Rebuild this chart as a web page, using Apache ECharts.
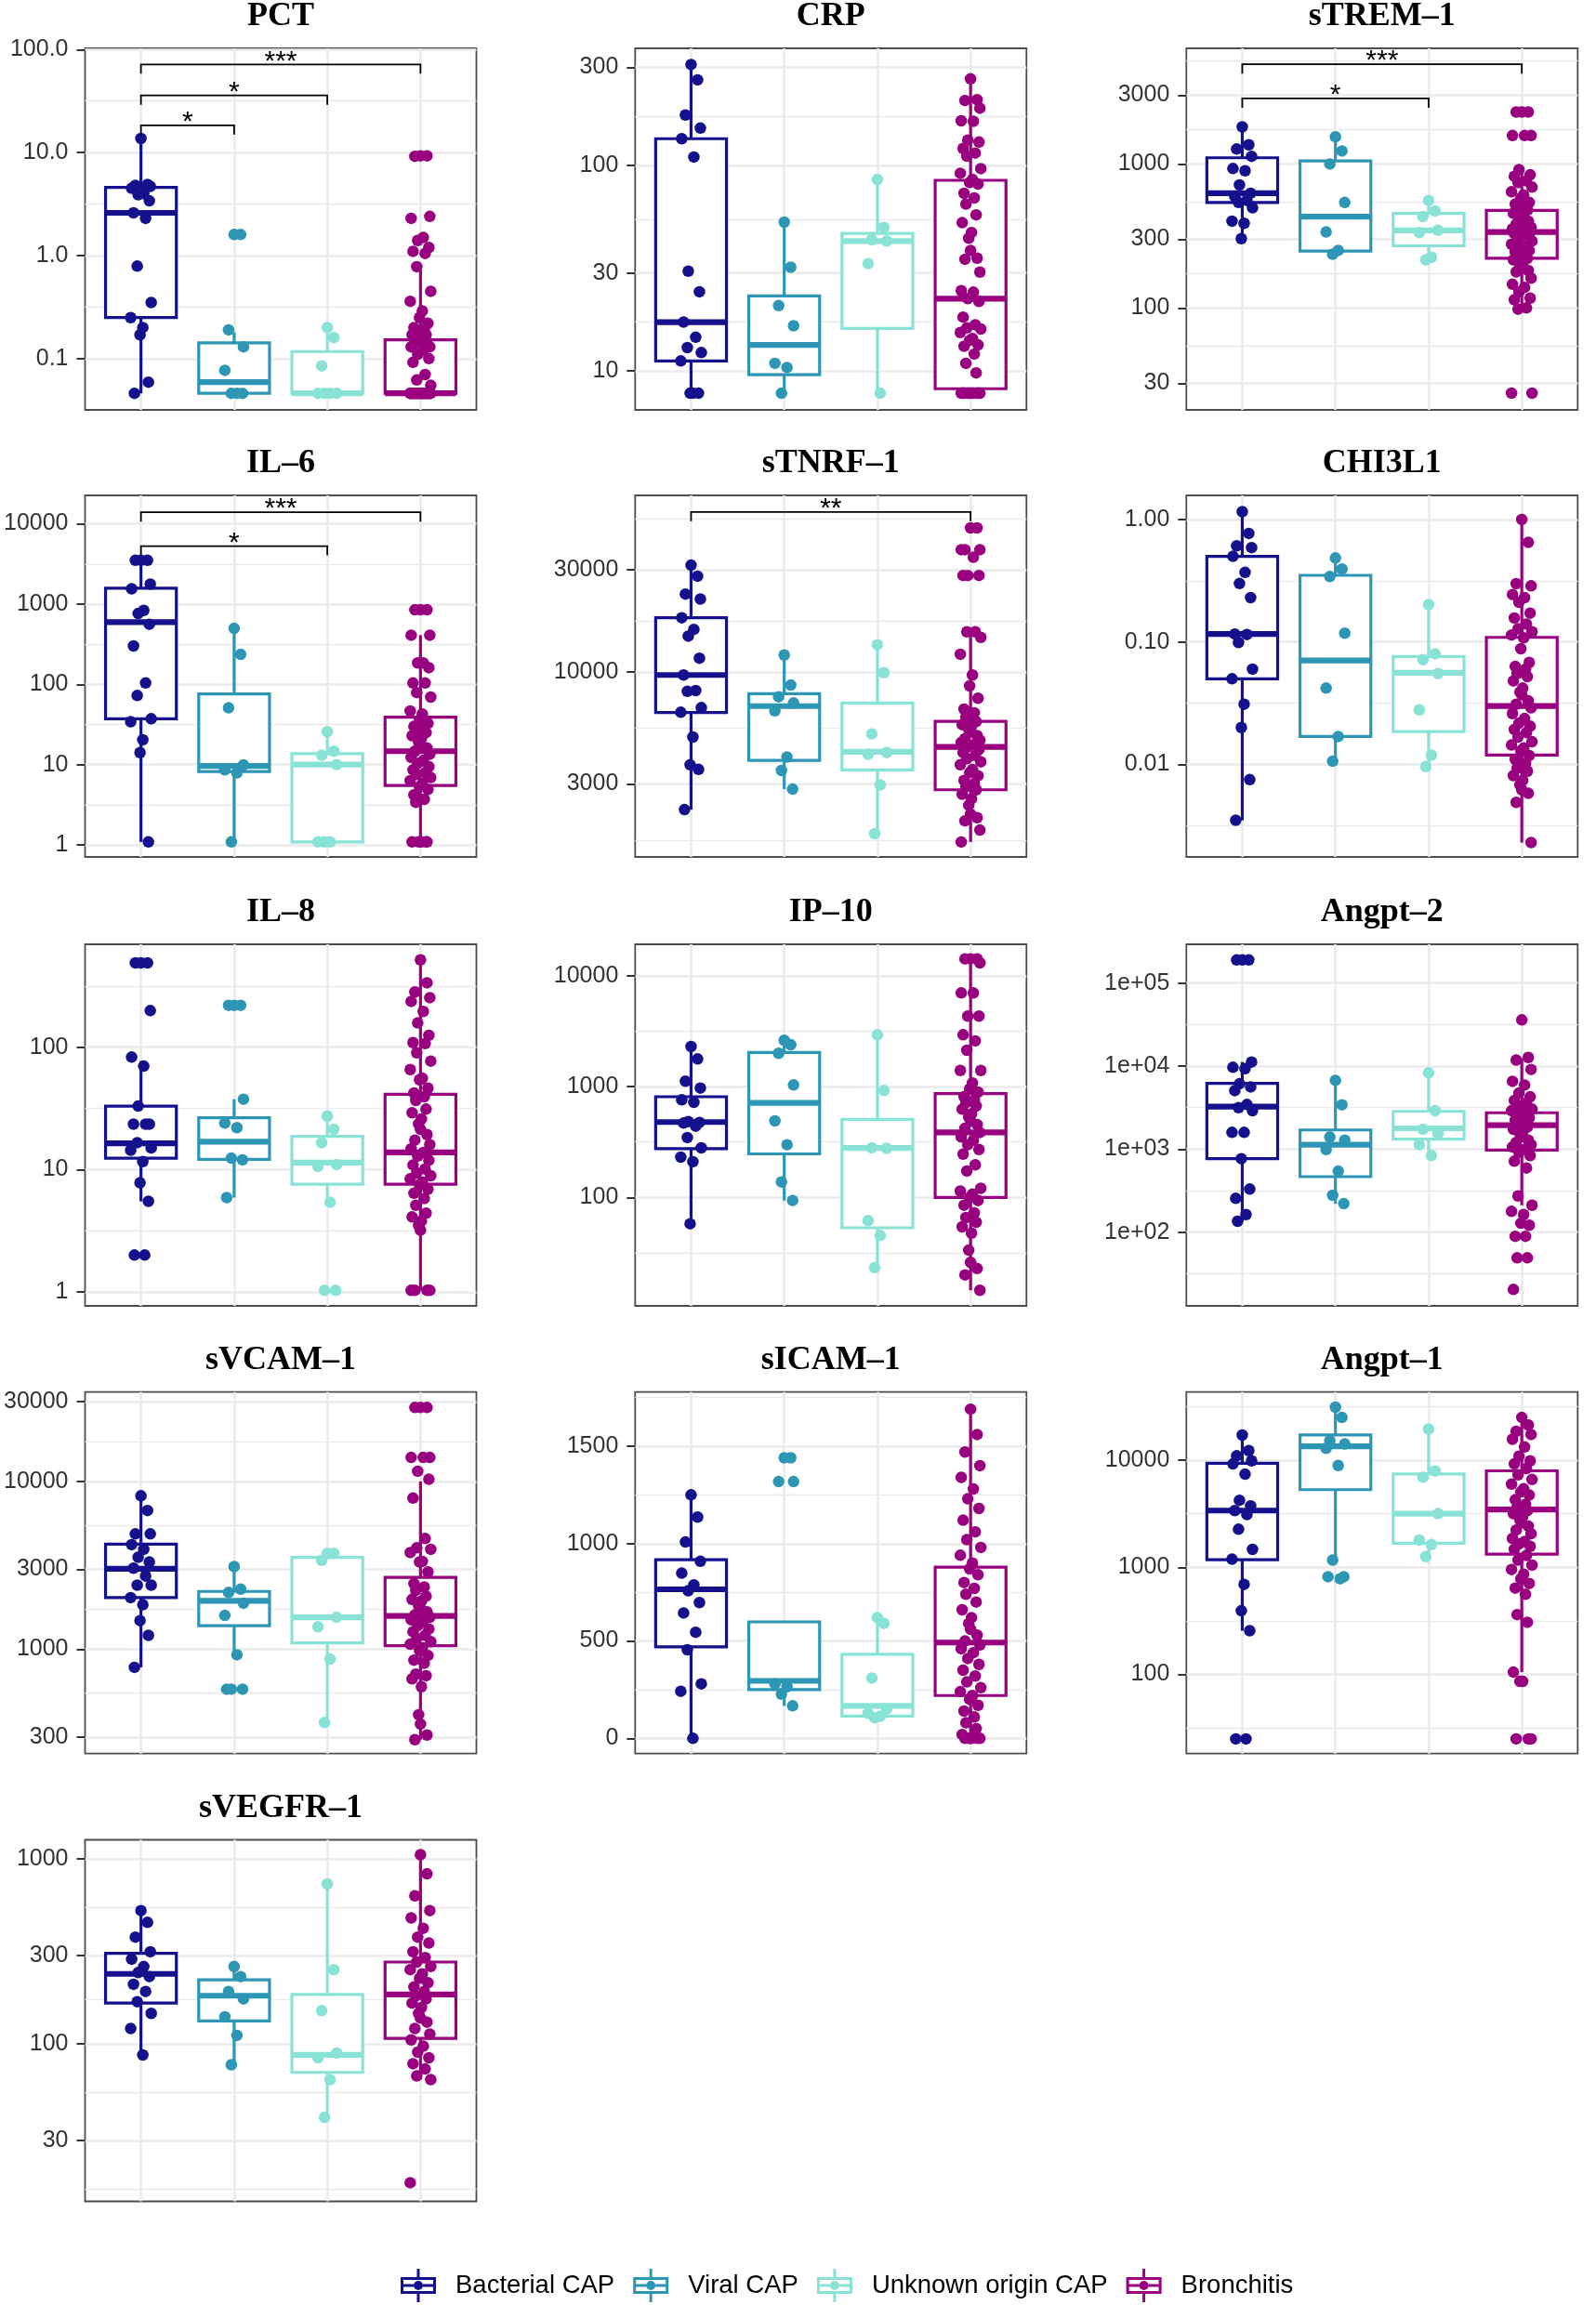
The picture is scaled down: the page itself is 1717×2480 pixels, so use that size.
<!DOCTYPE html>
<html lang="en">
<head>
<meta charset="UTF-8">
<title>Biomarkers by diagnosis group</title>
<script src="https://cdn.jsdelivr.net/npm/echarts@6.0.0/dist/echarts.min.js"></script>
<style>
  html, body { margin: 0; padding: 0; background: #fff; }
  #main { width: 1717px; height: 2480px; }
</style>
</head>
<body>
<div id="main"></div>
<script>
// groups in legend order and their colours
var groups = ['Bacterial CAP', 'Viral CAP', 'Unknown origin CAP', 'Bronchitis'];
var colors = ['#15108c', '#2e96b5', '#88e3d6', '#98007f'];

// every panel: points per group, box stats per group [lower whisker, Q1, median, Q3, upper whisker],
// axis ticks + labels, axis range (log10 units unless linear), significance brackets [from, to, y, label]

// ---- PCT ----
var pctPoints = [
  [13.7, 4.9, 4.8, 4.7, 4.5, 4.0, 3.9, 3.4, 2.6, 2.3, 0.79, 0.35, 0.25, 0.2, 0.17, 0.059, 0.046],
  [1.6, 1.6, 0.19, 0.13, 0.077, 0.046, 0.046, 0.046],
  [0.2, 0.16, 0.085, 0.046, 0.046, 0.046, 0.046],
  [9.3, 9.3, 9.2, 2.4, 2.3, 1.5, 1.4, 1.2, 1.1, 1.05, 0.78, 0.45, 0.36, 0.29, 0.25, 0.22, 0.2, 0.19, 0.18, 0.17,
   0.17, 0.16, 0.15, 0.15, 0.14, 0.14, 0.13, 0.13, 0.12, 0.11, 0.1, 0.092, 0.07, 0.062, 0.055,
   0.046, 0.046, 0.046, 0.046, 0.046, 0.046, 0.046, 0.046, 0.046, 0.046, 0.046, 0.046, 0.046, 0.046, 0.046,
   0.046, 0.046, 0.046, 0.046, 0.046, 0.046, 0.046, 0.046, 0.046, 0.046]
];
var pctBoxes = [[0.046, 0.25, 2.6, 4.6, 13.5], [0.046, 0.046, 0.059, 0.142, 0.18], [0.046, 0.046, 0.046, 0.117, 0.2], [0.046, 0.046, 0.046, 0.152, 0.74]];
var pctTicks = [0.1, 1, 10, 100];
var pctLabels = ['0.1', '1.0', '10.0', '100.0'];
var pctRange = [-1.498, 2.012];
var pctBrackets = [[1, 2, 18.4, '*'], [1, 3, 35.9, '*'], [1, 4, 71.8, '***']];

// ---- CRP ----
var crpPoints = [
  [310, 261, 176, 152, 135, 110, 30.6, 24.3, 17.3, 14.6, 13, 12.3, 11.2, 7.8, 7.8, 7.8],
  [53, 32, 20.8, 16.6, 10.9, 10.4, 7.8],
  [85.5, 50, 43.5, 42.9, 33.3, 7.8],
  [264, 209, 207, 190, 165, 164, 133, 130, 121, 115, 111, 96.6, 91.7, 85.5, 82.6, 81.2, 73.2, 69.5, 64.9, 57.5,
   52.7, 47.2, 44.3, 38.6, 35.4, 35.0, 30.3, 24.6, 24.2, 22.5, 21.8, 18.3, 16.8, 16.2, 16.0, 15.4, 14.4, 14.1,
   13.4, 13.2, 12.1, 10.9, 9.8, 7.8, 7.8, 7.8, 7.8, 7.8, 7.8, 7.8, 7.8, 7.8, 7.8, 7.8, 7.8]
];
var crpBoxes = [[7.8, 11.2, 17.3, 135, 310], [7.8, 9.6, 13.4, 23.2, 53], [7.8, 16.1, 42.9, 46.7, 85.5], [7.8, 8.2, 22.5, 84.7, 261]];
var crpTicks = [10, 30, 100, 300];
var crpLabels = ['10', '30', '100', '300'];
var crpRange = [0.811, 2.570];

// ---- sTREM-1 ----
var tremPoints = [
  [1810, 1360, 1270, 1130, 929, 897, 715, 626, 596, 558, 540, 496, 401, 387, 303],
  [1545, 1231, 1000, 540, 337, 251, 236],
  [558, 472, 431, 346, 334, 225, 216],
  [2296, 2296, 2296, 1575, 1575, 1575, 915, 841, 821, 762, 743, 690, 641, 610, 580, 540, 526, 513, 501, 477,
   454, 432, 421, 411, 401, 382, 363, 354, 346, 337, 335, 329, 321, 305, 291, 277, 270, 264, 251, 245, 233,
   227, 221, 216, 206, 196, 186, 182, 178, 161, 146, 139, 129, 117, 114, 100, 98, 25.6, 25.6]
];
var tremBoxes = [[303, 540, 626, 1104, 1810], [236, 248, 431, 1050, 1545], [216, 270, 346, 454, 558], [98, 221, 337, 476, 915]];
var tremTicks = [30, 100, 300, 1000, 3000];
var tremLabels = ['30', '100', '300', '1000', '3000'];
var tremRange = [1.292, 3.803];
var tremBrackets = [[1, 3, 2850, '*'], [1, 4, 4920, '***']];

// ---- IL-6 ----
var il6Points = [
  [3510, 3510, 3510, 1770, 1550, 834, 763, 560, 301, 104, 72.6, 37.3, 34.2, 20.4, 14.1, 1.09],
  [498, 236, 51, 9.9, 8.6, 7.9, 1.09],
  [25.7, 14.7, 13.1, 10.0, 1.09, 1.09, 1.09],
  [849, 849, 849, 410, 410, 185, 185, 161, 104, 104, 79, 69.5, 46.6, 42.7, 35.7, 32.7, 29.9, 28.6, 26.7, 25.1,
   22.9, 21.0, 19.2, 17.6, 16.1, 14.7, 13.5, 12.3, 11.3, 10.3, 9.4, 8.6, 7.9, 7.6, 6.9, 6.3, 5.8, 5.3, 4.9,
   4.2, 3.7, 3.4, 1.09, 1.09, 1.09, 1.09, 1.09, 1.09]
];
var il6Boxes = [[1.09, 37.3, 595, 1580, 3510], [1.09, 8.2, 9.6, 76, 498], [1.09, 1.09, 10, 13.7, 25.7], [1.09, 5.5, 14.7, 39, 410]];
var il6Ticks = [1, 10, 100, 1000, 10000];
var il6Labels = ['1', '10', '100', '1000', '10000'];
var il6Range = [-0.150, 4.354];
var il6Brackets = [[1, 3, 5280, '*'], [1, 4, 13900, '***']];

// ---- sTNRF-1 ----
var tnrfPoints = [
  [31500, 28000, 23100, 21900, 17900, 15800, 14700, 11600, 9680, 8190, 8120, 6820, 6490, 4970, 3690, 3510, 2280],
  [12000, 8690, 7660, 7170, 6590, 4010, 3470, 2840],
  [13400, 9930, 5140, 4210, 4130, 2970, 1760],
  [47000, 47000, 37200, 37200, 37200, 34300, 28200, 28200, 28200, 15400, 15400, 14500, 12100, 9680, 8610,
   7540, 6710, 6450, 6170, 5870, 5680, 5590, 5400, 5230, 5050, 4890, 4810, 4690, 4580, 4470, 4350, 4210,
   4070, 3940, 3810, 3690, 3510, 3390, 3280, 3120, 3020, 2920, 2820, 2690, 2560, 2390, 2170, 2090, 2020, 1830, 1610]
];
var tnrfBoxes = [[2280, 6470, 9680, 17900, 31500], [2840, 3870, 6930, 7920, 12000], [1760, 3490, 4240, 7170, 13400], [1610, 2820, 4470, 5880, 15400]];
var tnrfTicks = [3000, 10000, 30000];
var tnrfLabels = ['3000', '10000', '30000'];
var tnrfRange = [3.137, 4.824];
var tnrfBrackets = [[1, 4, 55800, '**']];

// ---- CHI3L1 ----
var chiPoints = [
  [1.16, 0.77, 0.61, 0.59, 0.5, 0.37, 0.30, 0.23, 0.116, 0.115, 0.099, 0.060, 0.050, 0.031, 0.020, 0.0075, 0.0035],
  [0.485, 0.394, 0.342, 0.118, 0.042, 0.0169, 0.0106],
  [0.202, 0.080, 0.0717, 0.0552, 0.0279, 0.0119, 0.0096],
  [1.0, 0.65, 0.299, 0.287, 0.244, 0.230, 0.211, 0.172, 0.157, 0.140, 0.128, 0.121, 0.114, 0.108, 0.088, 0.068,
   0.063, 0.060, 0.055, 0.052, 0.048, 0.042, 0.039, 0.037, 0.033, 0.031, 0.029, 0.026, 0.0237, 0.0217, 0.0205,
   0.0193, 0.0182, 0.0167, 0.0153, 0.0144, 0.0136, 0.0129, 0.0118, 0.0110, 0.0102, 0.0093, 0.0088, 0.0081,
   0.0074, 0.0068, 0.0062, 0.0058, 0.0049, 0.0023]
];
var chiBoxes = [[0.0035, 0.05, 0.116, 0.5, 1.14], [0.0106, 0.0169, 0.0705, 0.35, 0.485], [0.0096, 0.0185, 0.056, 0.076, 0.202], [0.0023, 0.0119, 0.030, 0.109, 1.0]];
var chiTicks = [0.01, 0.1, 1];
var chiLabels = ['0.01', '0.10', '1.00'];
var chiRange = [-2.756, 0.197];

// ---- IL-8 ----
var il8Points = [
  [489, 489, 489, 199, 83, 70, 33, 23.5, 23.5, 23.5, 16.6, 15, 14.4, 11.6, 7.8, 5.5, 2.0, 2.0],
  [220, 220, 220, 37.6, 24, 22, 12.4, 12, 5.9],
  [27.4, 21.3, 16.6, 11, 10.6, 5.4, 1.03, 1.03],
  [517, 336, 283, 254, 237, 196, 158, 125, 109, 107, 90, 77, 65.7, 55.8, 54.2, 46.3, 42.2, 39.4, 36.7, 31.2,
   29.1, 25.9, 23.6, 21.3, 19.3, 17.4, 16.0, 14.8, 13.8, 12.9, 11.9, 10.9, 10.1, 9.4, 8.9, 8.4, 7.9, 7.5, 6.9,
   6.4, 5.8, 5.1, 4.4, 4.1, 3.8, 3.5, 3.2, 1.03, 1.03, 1.03, 1.03]
];
var il8Boxes = [[5.5, 12.4, 16.4, 33, 77], [5.9, 12.1, 16.9, 26.5, 37.6], [5.4, 7.6, 11.4, 18.7, 27.4], [1.03, 7.6, 13.8, 41.2, 511]];
var il8Ticks = [1, 10, 100];
var il8Labels = ['1', '10', '100'];
var il8Range = [-0.114, 2.841];

// ---- IP-10 ----
var ip10Points = [
  [2300, 1780, 1120, 971, 760, 722, 484, 475, 469, 440, 347, 280, 231, 210, 57.8],
  [2620, 2390, 2000, 1035, 491, 299, 138, 93.8],
  [2940, 922, 280, 277, 61.7, 45.3, 23.2],
  [14250, 14250, 14250, 13100, 7010, 7010, 4330, 4330, 2940, 2590, 2130, 1400, 1400, 1080, 952, 893, 811, 760,
   713, 668, 627, 569, 533, 491, 454, 421, 386, 351, 329, 299, 271, 246, 197, 173, 121, 114, 107, 100, 93.8,
   85.1, 72.4, 65.8, 59.7, 54.2, 47.6, 33.4, 25.9, 22.8, 20.0, 14.5]
];
var ip10Boxes = [[57.8, 275, 479, 811, 2300], [93.8, 247, 713, 2035, 2620], [23.2, 53.2, 280, 507, 2940], [14.5, 100, 386, 865, 14250]];
var ip10Ticks = [100, 1000, 10000];
var ip10Labels = ['100', '1000', '10000'];
var ip10Range = [1.021, 4.285];

// ---- Angpt-2 ----
var ang2Points = [
  [190000, 190000, 190000, 11200, 9670, 9300, 6120, 5620, 5070, 3450, 3160, 2900, 1590, 1590, 766, 330, 255, 163, 135],
  [6730, 3420, 1400, 1280, 990, 543, 278, 220],
  [8280, 2900, 1730, 1550, 1130, 835],
  [36000, 12700, 11800, 9100, 6560, 5910, 4730, 4270, 3850, 3600, 3300, 3030, 2900, 2730, 2550, 2380, 2240,
   2110, 1970, 1840, 1730, 1630, 1520, 1400, 1280, 1200, 1130, 1060, 990, 910, 835, 715, 592, 273, 211, 178,
   163, 128, 121, 89, 89, 49, 49, 20.4]
];
var ang2Boxes = [[135, 766, 3250, 6180, 11200], [220, 466, 1130, 1700, 6730], [835, 1320, 1780, 2850, 8280], [211, 976, 1940, 2740, 12500]];
var ang2Ticks = [100, 1000, 10000, 100000];
var ang2Labels = ['1e+02', '1e+03', '1e+04', '1e+05'];
var ang2Range = [1.112, 5.467];

// ---- sVCAM-1 ----
var vcamPoints = [
  [8210, 6710, 4870, 4870, 4200, 3940, 3530, 3310, 3040, 2730, 2410, 2410, 2030, 1840, 1480, 1210, 780],
  [3110, 2280, 2180, 1880, 1590, 926, 578, 578, 578],
  [3730, 3730, 3390, 1550, 1360, 873, 366],
  [27600, 27600, 27600, 13900, 13900, 13900, 11500, 10300, 7960, 4570, 4020, 3940, 3770, 3340, 3310, 2890,
   2460, 2350, 2240, 2070, 1980, 1940, 1820, 1750, 1670, 1600, 1550, 1500, 1460, 1380, 1320, 1270, 1210,
   1160, 1110, 1070, 1020, 980, 918, 861, 825, 710, 695, 666, 598, 407, 358, 308, 289]
];
var vcamBoxes = [[780, 2030, 3020, 4230, 8210], [926, 1380, 1940, 2210, 3110], [366, 1090, 1550, 3530, 3730], [289, 1050, 1580, 2680, 10000]];
var vcamTicks = [300, 1000, 3000, 10000, 30000];
var vcamLabels = ['300', '1000', '3000', '10000', '30000'];
var vcamRange = [2.378, 4.533];

// ---- sICAM-1 (linear axis) ----
var icamPoints = [
  [1250, 1136, 1008, 909, 848, 788, 758, 697, 644, 545, 455, 280, 242, 0],
  [1440, 1440, 1318, 1318, 280, 265, 227, 167],
  [620, 590, 310, 152, 129, 114, 106],
  [1690, 1560, 1470, 1400, 1340, 1280, 1230, 1180, 1120, 1060, 1020, 980, 940, 900, 870, 840, 800, 770, 740,
   700, 660, 620, 590, 560, 530, 500, 480, 460, 440, 410, 380, 350, 320, 290, 260, 240, 220, 200, 170, 140,
   110, 80, 50, 20, 0, 0, 0, 0, 0, 0]
];
var icamBoxes = [[0, 470, 765, 917, 1250], [167, 250, 295, 598, 598], [106, 114, 167, 432, 620], [0, 220, 492, 879, 1712]];
var icamTicks = [0, 500, 1000, 1500];
var icamLabels = ['0', '500', '1000', '1500'];
var icamRange = [-78, 1778];

// ---- Angpt-1 ----
var ang1Points = [
  [17200, 12300, 11000, 9870, 9230, 7410, 4230, 3750, 3390, 3110, 2270, 1470, 1190, 693, 393, 256, 25, 25],
  [31300, 25100, 15200, 14200, 12900, 8930, 1170, 818, 818, 781],
  [19600, 7930, 6930, 3170, 1800, 1630, 1260],
  [25100, 21300, 18600, 17400, 15700, 13300, 10900, 9870, 9230, 8350, 7310, 6610, 5980, 5410, 5060, 4730,
   4280, 3880, 3630, 3390, 3170, 2970, 2770, 2600, 2430, 2230, 2060, 1860, 1740, 1660, 1570, 1470, 1290,
   1170, 1050, 954, 863, 781, 707, 640, 560, 362, 307, 105, 86, 86, 86, 25, 25, 25]
];
var ang1Boxes = [[256, 1180, 3390, 9350, 17200], [1170, 5310, 13500, 17200, 31300], [1260, 1680, 3170, 7450, 19600], [105, 1330, 3460, 7960, 25100]];
var ang1Ticks = [100, 1000, 10000];
var ang1Labels = ['100', '1000', '10000'];
var ang1Range = [1.261, 4.637];

// ---- sVEGFR-1 ----
var vegfPoints = [
  [526, 454, 378, 315, 287, 262, 243, 231, 210, 192, 169, 146, 121, 87],
  [262, 231, 192, 175, 140, 111, 77],
  [733, 252, 151, 89, 84, 64, 40],
  [1056, 832, 632, 526, 480, 422, 378, 351, 315, 293, 277, 262, 252, 239, 226, 214, 203, 192, 182, 175, 166,
   157, 146, 138, 131, 121, 113, 105, 97, 90, 84, 78, 73, 67, 64, 17.7]
];
var vegfBoxes = [[87, 166, 239, 309, 526], [77, 133, 182, 222, 262], [40, 70, 87, 185, 733], [64, 107, 185, 277, 1056]];
var vegfTicks = [30, 100, 300, 1000];
var vegfLabels = ['30', '100', '300', '1000'];
var vegfRange = [1.147, 3.104];

var panels = [
  {title: 'PCT', points: pctPoints, boxes: pctBoxes, ticks: pctTicks, labels: pctLabels, range: pctRange, brackets: pctBrackets},
  {title: 'CRP', points: crpPoints, boxes: crpBoxes, ticks: crpTicks, labels: crpLabels, range: crpRange},
  {title: 'sTREM\u20131', points: tremPoints, boxes: tremBoxes, ticks: tremTicks, labels: tremLabels, range: tremRange, brackets: tremBrackets},
  {title: 'IL\u20136', points: il6Points, boxes: il6Boxes, ticks: il6Ticks, labels: il6Labels, range: il6Range, brackets: il6Brackets},
  {title: 'sTNRF\u20131', points: tnrfPoints, boxes: tnrfBoxes, ticks: tnrfTicks, labels: tnrfLabels, range: tnrfRange, brackets: tnrfBrackets},
  {title: 'CHI3L1', points: chiPoints, boxes: chiBoxes, ticks: chiTicks, labels: chiLabels, range: chiRange},
  {title: 'IL\u20138', points: il8Points, boxes: il8Boxes, ticks: il8Ticks, labels: il8Labels, range: il8Range},
  {title: 'IP\u201310', points: ip10Points, boxes: ip10Boxes, ticks: ip10Ticks, labels: ip10Labels, range: ip10Range},
  {title: 'Angpt\u20132', points: ang2Points, boxes: ang2Boxes, ticks: ang2Ticks, labels: ang2Labels, range: ang2Range},
  {title: 'sVCAM\u20131', points: vcamPoints, boxes: vcamBoxes, ticks: vcamTicks, labels: vcamLabels, range: vcamRange},
  {title: 'sICAM\u20131', points: icamPoints, boxes: icamBoxes, ticks: icamTicks, labels: icamLabels, range: icamRange, linear: true},
  {title: 'Angpt\u20131', points: ang1Points, boxes: ang1Boxes, ticks: ang1Ticks, labels: ang1Labels, range: ang1Range},
  {title: 'sVEGFR\u20131', points: vegfPoints, boxes: vegfBoxes, ticks: vegfTicks, labels: vegfLabels, range: vegfRange}
];

// layout
var colLeft = [91.5, 683.3, 1276.3];
var rowTop = [52, 533, 1016, 1497.7, 1979.5];
var panelW = 421, panelH = 389;
var BOX_W = 0.76;
// horizontal jitter offsets (category units), reused cyclically
var jitter = [0.0, 0.07, -0.06, 0.1, -0.1, 0.03, -0.03, 0.09, -0.08, 0.05, -0.04, 0.11, -0.11, 0.02,
              -0.01, 0.08, -0.07, 0.04, -0.05, 0.06, -0.09, 0.01, -0.02];

var SANS = 'Liberation Sans';
var GRID_COLOR = '#ebebeb';

function renderBox(params, api) {
  var x = api.value(0);
  var color = api.visual('color');
  var lo = api.coord([x, api.value(1)]);
  var q1 = api.coord([x, api.value(2)]);
  var md = api.coord([x, api.value(3)]);
  var q3 = api.coord([x, api.value(4)]);
  var hi = api.coord([x, api.value(5)]);
  var xl = api.coord([x - BOX_W / 2, api.value(3)])[0];
  var xr = api.coord([x + BOX_W / 2, api.value(3)])[0];
  var ls = {stroke: color, lineWidth: 3.2, fill: null};
  return {
    type: 'group',
    children: [
      {type: 'line', shape: {x1: q3[0], y1: q3[1], x2: hi[0], y2: hi[1]}, style: ls},
      {type: 'line', shape: {x1: lo[0], y1: lo[1], x2: q1[0], y2: q1[1]}, style: ls},
      {type: 'rect', shape: {x: xl, y: q3[1], width: xr - xl, height: q1[1] - q3[1]},
       style: {stroke: color, lineWidth: 3.2, fill: '#fff'}},
      {type: 'line', shape: {x1: xl, y1: md[1], x2: xr, y2: md[1]}, style: {stroke: color, lineWidth: 6.2}}
    ]
  };
}

function makeBracketRenderer(brackets) {
  return function (params, api) {
    var b = brackets[params.dataIndex];
    var a = api.coord([api.value(0), api.value(2)]);
    var c = api.coord([api.value(1), api.value(2)]);
    return {
      type: 'group',
      children: [
        {type: 'polyline', shape: {points: [[a[0], a[1] + 10], [a[0], a[1]], [c[0], c[1]], [c[0], c[1] + 10]]},
         style: {stroke: '#000', lineWidth: 1.8, fill: null}},
        {type: 'text', x: (a[0] + c[0]) / 2, y: a[1] - 3,
         style: {text: b[3], fontSize: 30, fontFamily: SANS, fill: '#000', align: 'center', verticalAlign: 'middle'}}
      ]
    };
  };
}

function minorValues(tv, range) {
  var out = [];
  for (var k = 0; k < tv.length - 1; k++) out.push((tv[k] + tv[k + 1]) / 2);
  out.push(tv[0] - (tv[1] - tv[0]) / 2);
  out.push(tv[tv.length - 1] + (tv[tv.length - 1] - tv[tv.length - 2]) / 2);
  return out.filter(function (v) { return v > range[0] && v < range[1]; });
}

var titles = [], grids = [], xAxes = [], yAxes = [], series = [];

panels.forEach(function (p, i) {
  var col = i % 3, row = Math.floor(i / 3);
  var left = colLeft[col], top = rowTop[row];
  var f = p.linear ? function (v) { return v; } : Math.log10;
  var tv = p.ticks.map(f);

  titles.push({
    text: p.title, left: left + panelW / 2, top: top - 52, textAlign: 'center', padding: 0,
    textStyle: {fontFamily: 'Liberation Serif', fontWeight: 'bold', fontSize: 36, color: '#000'}
  });
  grids.push({
    left: left, top: top, width: panelW, height: panelH, show: true, containLabel: false, outerBoundsMode: 'none',
    borderColor: '#4d4d4d', borderWidth: 1.8, backgroundColor: '#fff'
  });
  xAxes.push({
    type: 'value', gridIndex: i, min: 0.4, max: 4.6,
    axisLine: {show: false},
    axisTick: {show: false, customValues: [1, 2, 3, 4]},
    axisLabel: {show: false, customValues: [1, 2, 3, 4]},
    splitLine: {show: true, lineStyle: {color: GRID_COLOR, width: 2.6}}
  });
  yAxes.push({
    type: 'value', gridIndex: i, min: p.range[0], max: p.range[1],
    axisLine: {show: false},
    axisTick: {show: true, length: 9, customValues: tv, lineStyle: {color: '#333', width: 2}},
    axisLabel: {
      customValues: tv, margin: 18, fontSize: 25, color: '#333', fontFamily: SANS,
      formatter: function (v) {
        for (var k = 0; k < tv.length; k++) if (Math.abs(tv[k] - v) < 1e-6) return p.labels[k];
        return '';
      }
    },
    splitLine: {show: true, lineStyle: {color: GRID_COLOR, width: 2.6}}
  });
  // second axis only carries the minor grid lines
  var mv = minorValues(tv, p.range);
  yAxes.push({
    type: 'value', gridIndex: i, min: p.range[0], max: p.range[1],
    axisLine: {show: false},
    axisTick: {show: false, customValues: mv},
    axisLabel: {show: false, customValues: mv},
    splitLine: {show: true, lineStyle: {color: GRID_COLOR, width: 1.4}}
  });

  groups.forEach(function (g, gi) {
    series.push({
      type: 'custom', name: g, xAxisIndex: i, yAxisIndex: 2 * i, z: 2, silent: true,
      itemStyle: {color: colors[gi]},
      renderItem: renderBox,
      data: [[gi + 1].concat(p.boxes[gi].map(f))]
    });
    series.push({
      type: 'scatter', name: g, xAxisIndex: i, yAxisIndex: 2 * i, z: 3, silent: true,
      symbolSize: 12.5, itemStyle: {color: colors[gi], opacity: 1},
      data: p.points[gi].map(function (v, k) { return [gi + 1 + jitter[k % jitter.length], f(v)]; })
    });
  });

  if (p.brackets) {
    series.push({
      type: 'custom', xAxisIndex: i, yAxisIndex: 2 * i, z: 4, silent: true,
      renderItem: makeBracketRenderer(p.brackets),
      data: p.brackets.map(function (b) { return [b[0], b[1], f(b[2])]; })
    });
  }
});

// legend key: whiskers, box, median and a point
var ICON = 'path://M18.5 0h3v9h-3Z M1 9h38v3h-38Z M1 24h38v3h-38Z M1 9h3v18h-3Z M36 9h3v18h-3Z ' +
  'M1 16.5h14v3h-14Z M25 16.5h14v3h-14Z M18.5 27h3v9h-3Z M15 18A5 5 0 1 1 25 18A5 5 0 1 1 15 18Z';

var chart = echarts.init(document.getElementById('main'));
chart.setOption({
  backgroundColor: '#fff',
  animation: false,
  title: titles,
  grid: grids,
  xAxis: xAxes,
  yAxis: yAxes,
  legend: {
    left: 426, top: 2436, itemWidth: 40, itemHeight: 36, itemGap: 20, selectedMode: false,
    itemStyle: {borderWidth: 0},
    textStyle: {fontSize: 27.5, fontFamily: SANS, color: '#000', padding: [0, 0, 0, 15]},
    data: groups.map(function (g) { return {name: g, icon: ICON}; })
  },
  series: series
});
</script>
</body>
</html>
